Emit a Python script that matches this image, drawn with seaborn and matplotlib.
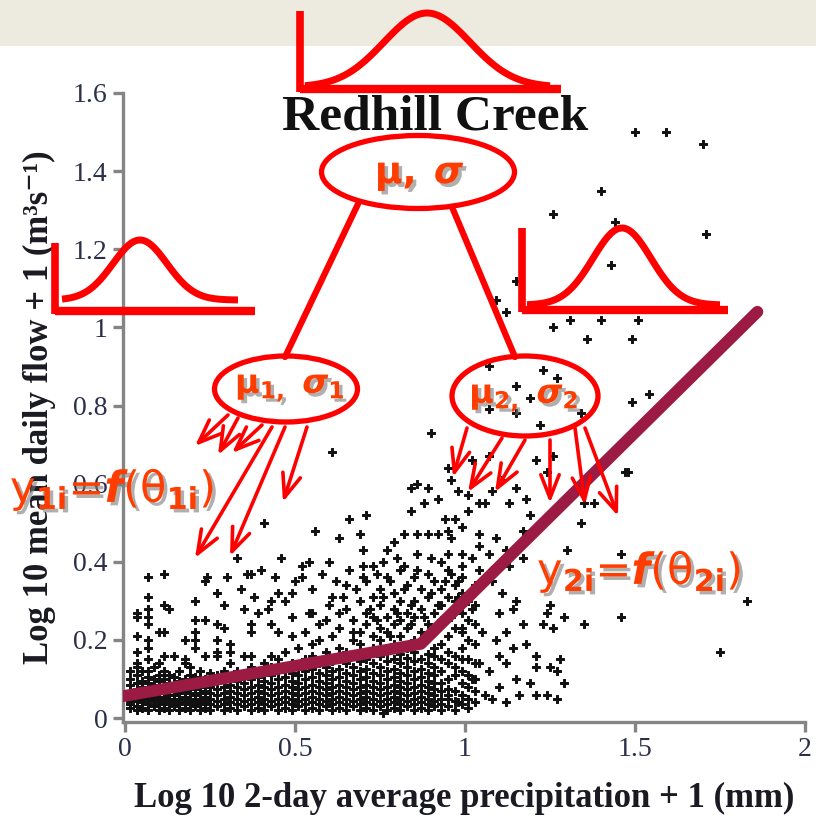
import numpy as np
import matplotlib
matplotlib.use("Agg")
import matplotlib.pyplot as plt
import matplotlib.patheffects as pe
from matplotlib.patches import Ellipse, Rectangle
import seaborn as sns

# ---------------- data ----------------
title = "Redhill Creek"
x_label = "Log 10 2-day average precipitation + 1 (mm)"
y_label = "Log 10 mean daily flow + 1 (m³s⁻¹)"
x_ticks = [0, 0.5, 1, 1.5, 2]
x_tick_labels = ["0", "0.5", "1", "1.5", "2"]
y_ticks = [0, 0.2, 0.4, 0.6, 0.8, 1.0, 1.2, 1.4, 1.6]
y_tick_labels = ["0", "0.2", "0.4", "0.6", "0.8", "1", "1.2", "1.4", "1.6"]

# dense low-flow band, read column by column
band_x = [0.015, 0.035, 0.05, 0.068, 0.085, 0.10, 0.115, 0.13, 0.145, 0.16,
          0.175, 0.19, 0.205, 0.22, 0.235, 0.25, 0.27, 0.29, 0.31, 0.33,
          0.35, 0.37, 0.39, 0.41, 0.43, 0.45, 0.47, 0.49, 0.51, 0.53,
          0.55, 0.57, 0.59, 0.61, 0.63, 0.65, 0.67, 0.69, 0.71, 0.73,
          0.75, 0.77, 0.79, 0.81, 0.83, 0.85, 0.87, 0.89, 0.91, 0.93,
          0.95, 0.97, 0.99, 1.01, 1.03]
band_y = [
    [0.025, 0.035, 0.045, 0.055, 0.07, 0.085, 0.10, 0.12],
    [0.02, 0.03, 0.045, 0.06, 0.075, 0.09, 0.11, 0.13, 0.14, 0.17, 0.21, 0.26, 0.27],
    [0.025, 0.04, 0.05, 0.065, 0.08, 0.095, 0.12],
    [0.02, 0.035, 0.05, 0.06, 0.075, 0.09, 0.105, 0.12, 0.15, 0.18, 0.20, 0.24, 0.26, 0.28, 0.31, 0.36],
    [0.03, 0.045, 0.055, 0.07, 0.085, 0.10, 0.13],
    [0.02, 0.035, 0.05, 0.065, 0.08, 0.095, 0.11, 0.14, 0.22],
    [0.025, 0.04, 0.055, 0.07, 0.085, 0.10, 0.12, 0.16, 0.22, 0.29, 0.37],
    [0.02, 0.035, 0.05, 0.06, 0.075, 0.09, 0.11, 0.28],
    [0.03, 0.045, 0.06, 0.075, 0.09, 0.105, 0.16],
    [0.02, 0.035, 0.05, 0.065, 0.08, 0.095, 0.12],
    [0.025, 0.04, 0.055, 0.07, 0.085, 0.10, 0.14, 0.15, 0.20],
    [0.02, 0.035, 0.05, 0.065, 0.08, 0.095, 0.11, 0.13],
    [0.03, 0.045, 0.06, 0.075, 0.09, 0.105, 0.18, 0.20, 0.22, 0.25, 0.30],
    [0.02, 0.035, 0.05, 0.065, 0.08, 0.10, 0.12],
    [0.025, 0.04, 0.055, 0.07, 0.085, 0.10, 0.16, 0.25, 0.35],
    [0.02, 0.035, 0.05, 0.065, 0.08, 0.095, 0.115],
    [0.03, 0.045, 0.06, 0.075, 0.09, 0.11, 0.16, 0.17, 0.20, 0.24, 0.32],
    [0.02, 0.035, 0.05, 0.065, 0.08, 0.10, 0.12, 0.23, 0.29],
    [0.025, 0.04, 0.055, 0.07, 0.085, 0.105, 0.14, 0.17, 0.19],
    [0.02, 0.035, 0.05, 0.065, 0.08, 0.095, 0.12],
    [0.03, 0.045, 0.06, 0.075, 0.09, 0.11, 0.16, 0.28],
    [0.02, 0.035, 0.05, 0.065, 0.08, 0.10, 0.13, 0.16, 0.22, 0.24, 0.37],
    [0.025, 0.04, 0.055, 0.07, 0.085, 0.105, 0.12, 0.27],
    [0.02, 0.035, 0.05, 0.065, 0.08, 0.095, 0.115, 0.14],
    [0.03, 0.045, 0.06, 0.075, 0.09, 0.11, 0.13, 0.16, 0.24, 0.30],
    [0.02, 0.035, 0.05, 0.065, 0.08, 0.10, 0.12, 0.15, 0.22, 0.32],
    [0.025, 0.04, 0.055, 0.07, 0.085, 0.105, 0.125, 0.17],
    [0.02, 0.035, 0.05, 0.065, 0.08, 0.095, 0.115, 0.14, 0.21, 0.26, 0.32],
    [0.03, 0.045, 0.06, 0.075, 0.09, 0.11, 0.13, 0.18],
    [0.02, 0.035, 0.05, 0.065, 0.08, 0.10, 0.12, 0.15, 0.22],
    [0.025, 0.04, 0.055, 0.07, 0.085, 0.105, 0.125, 0.16, 0.19, 0.27],
    [0.02, 0.035, 0.05, 0.065, 0.08, 0.095, 0.115, 0.14, 0.20],
    [0.03, 0.045, 0.06, 0.075, 0.09, 0.11, 0.13, 0.17, 0.25],
    [0.02, 0.035, 0.05, 0.065, 0.08, 0.10, 0.12, 0.145, 0.21, 0.31],
    [0.025, 0.04, 0.055, 0.07, 0.085, 0.105, 0.125, 0.15, 0.18, 0.23],
    [0.02, 0.035, 0.05, 0.065, 0.08, 0.095, 0.115, 0.14, 0.17, 0.28, 0.34],
    [0.03, 0.045, 0.06, 0.075, 0.09, 0.11, 0.13, 0.16, 0.20, 0.25],
    [0.02, 0.035, 0.05, 0.065, 0.08, 0.10, 0.12, 0.145, 0.19, 0.22, 0.30],
    [0.025, 0.04, 0.055, 0.07, 0.085, 0.105, 0.125, 0.15, 0.17, 0.24, 0.27, 0.35],
    [0.02, 0.035, 0.05, 0.065, 0.08, 0.095, 0.115, 0.14, 0.18, 0.21, 0.26, 0.31],
    [0.03, 0.045, 0.06, 0.075, 0.09, 0.11, 0.13, 0.16, 0.20, 0.23, 0.29, 0.33],
    [0.02, 0.035, 0.05, 0.065, 0.08, 0.10, 0.12, 0.145, 0.17, 0.22, 0.26, 0.36],
    [0.025, 0.04, 0.055, 0.07, 0.085, 0.105, 0.125, 0.15, 0.19, 0.24, 0.28, 0.32],
    [0.02, 0.035, 0.05, 0.065, 0.08, 0.095, 0.115, 0.14, 0.165, 0.21, 0.25, 0.30, 0.38],
    [0.03, 0.045, 0.06, 0.075, 0.09, 0.11, 0.13, 0.155, 0.18, 0.23, 0.27, 0.34],
    [0.02, 0.035, 0.05, 0.065, 0.08, 0.10, 0.12, 0.145, 0.17, 0.20, 0.26, 0.30, 0.36],
    [0.025, 0.04, 0.055, 0.07, 0.085, 0.105, 0.125, 0.15, 0.19, 0.22, 0.28, 0.33],
    [0.02, 0.035, 0.05, 0.065, 0.08, 0.095, 0.115, 0.14, 0.165, 0.21, 0.24, 0.31, 0.37],
    [0.03, 0.045, 0.06, 0.075, 0.09, 0.11, 0.13, 0.16, 0.18, 0.23, 0.27, 0.35],
    [0.02, 0.035, 0.05, 0.07, 0.09, 0.12, 0.15, 0.19, 0.25, 0.29, 0.33],
    [0.03, 0.05, 0.075, 0.10, 0.14, 0.17, 0.21, 0.26, 0.31, 0.38],
    [0.02, 0.045, 0.07, 0.11, 0.13, 0.16, 0.23, 0.28, 0.34],
    [0.035, 0.06, 0.09, 0.12, 0.18, 0.22, 0.27, 0.32, 0.36],
    [0.025, 0.05, 0.08, 0.11, 0.15, 0.20, 0.25, 0.30],
    [0.04, 0.07, 0.10, 0.14, 0.19, 0.24, 0.29, 0.34],
]

# scattered points away from the dense band
spread_x = [1.50, 1.59, 1.70, 1.40, 1.26, 1.44, 1.71, 1.43, 1.15, 1.09, 1.12, 1.31, 1.40, 1.51,
            1.26, 1.36, 1.49, 1.54, 1.49, 1.07, 1.23, 1.27, 1.15, 1.19, 1.15, 1.22, 1.34, 1.07,
            0.90, 0.61, 0.95, 0.86, 0.84, 0.89, 0.96, 0.98, 0.92, 0.88, 0.84, 0.66, 0.71, 0.94,
            0.56, 0.63, 0.69, 0.77, 0.79, 0.82, 0.86, 0.89, 0.92, 0.95, 0.70, 0.80, 0.90, 0.95,
            0.54, 0.52, 0.70, 0.73, 0.82, 0.41, 0.36, 0.24, 0.27,
            0.52, 0.55, 0.58, 0.60, 0.62, 0.64, 0.66, 0.68, 0.70, 0.72, 0.74, 0.76, 0.78, 0.80,
            0.82, 0.84, 0.86, 0.88, 0.90, 0.92, 0.94, 0.96, 0.98, 0.54, 0.57, 0.63, 0.67, 0.74,
            0.78, 0.84, 0.88, 0.60, 0.76, 0.86, 0.93,
            1.01, 1.04, 1.06, 1.01, 1.13, 1.15, 1.18, 1.19, 1.08, 1.11, 1.02, 1.07, 1.21, 1.24,
            1.26, 1.35, 1.38, 1.34, 1.47, 0.97, 0.99, 0.96, 1.04, 1.04, 1.09, 1.07, 1.02, 0.99,
            1.12, 1.17, 1.17, 1.13, 1.08, 1.04, 0.99, 0.96, 0.98, 1.04, 1.08, 1.11, 1.15, 1.25,
            1.29, 1.24, 1.23, 1.35, 1.46, 1.26, 1.17, 1.10, 1.14, 1.02, 0.97, 0.95, 0.99, 1.05,
            1.09, 1.12, 1.14, 1.18, 1.21, 1.21, 1.25, 1.27, 1.29, 1.27, 1.24, 1.21, 1.19, 1.15,
            1.16, 1.12, 1.10, 1.07, 1.10, 1.06, 1.02, 1.04, 0.99, 0.97, 0.95, 0.98, 1.01, 1.08,
            1.12, 1.28, 1.30, 1.48, 1.46, 1.83, 1.75,
            0.33, 0.40, 0.46, 0.50, 0.44, 0.47, 0.42, 0.38, 0.34, 0.30, 0.76]
spread_y = [1.50, 1.50, 1.47, 1.35, 1.29, 1.27, 1.24, 1.16, 1.12, 1.07, 1.04, 1.02, 1.02, 1.02,
            1.00, 0.97, 0.97, 0.83, 0.81, 0.90, 0.89, 0.87, 0.85, 0.82, 0.78, 0.75, 0.78, 0.79,
            0.73, 0.68, 0.64, 0.60, 0.59, 0.59, 0.61, 0.58, 0.56, 0.55, 0.53, 0.51, 0.52, 0.51,
            0.48, 0.46, 0.47, 0.43, 0.45, 0.47, 0.47, 0.47, 0.47, 0.48, 0.43, 0.41, 0.41, 0.42,
            0.40, 0.39, 0.39, 0.39, 0.39, 0.50, 0.37, 0.36, 0.32,
            0.36, 0.33, 0.37, 0.29, 0.35, 0.31, 0.38, 0.33, 0.36, 0.28, 0.37, 0.31, 0.35, 0.27,
            0.33, 0.29, 0.38, 0.26, 0.32, 0.29, 0.35, 0.26, 0.31, 0.27, 0.24, 0.27, 0.22, 0.25,
            0.21, 0.24, 0.21, 0.40, 0.40, 0.42, 0.40,
            0.57, 0.55, 0.55, 0.53, 0.55, 0.59, 0.56, 0.52, 0.58, 0.61, 0.66, 0.67, 0.66, 0.63,
            0.67, 0.55, 0.55, 0.50, 0.63, 0.51, 0.49, 0.46, 0.47, 0.44, 0.46, 0.42, 0.41, 0.42,
            0.43, 0.48, 0.41, 0.39, 0.38, 0.38, 0.39, 0.37, 0.35, 0.34, 0.35, 0.32, 0.30, 0.29,
            0.26, 0.27, 0.24, 0.24, 0.26, 0.23, 0.24, 0.27, 0.28, 0.28, 0.30, 0.26, 0.23, 0.22,
            0.20, 0.22, 0.18, 0.19, 0.16, 0.13, 0.13, 0.12, 0.09, 0.05, 0.06, 0.06, 0.09, 0.10,
            0.06, 0.14, 0.16, 0.12, 0.08, 0.06, 0.10, 0.14, 0.15, 0.11, 0.06, 0.04, 0.05, 0.05,
            0.04, 0.15, 0.43, 0.63, 0.42, 0.30, 0.17,
            0.41, 0.38, 0.41, 0.35, 0.36, 0.30, 0.28, 0.31, 0.33, 0.36, 0.013]

# fitted two-segment regression line
fit_x = [-0.02, 0.87, 1.86]
fit_y = [0.054, 0.19, 1.04]

# ---------------- figure ----------------
W, H = 816, 819
sns.set_theme(style="ticks")
plt.rcParams["font.family"] = ["Liberation Serif", "DejaVu Serif"]
plt.rcParams["mathtext.fontset"] = "custom"
plt.rcParams["mathtext.rm"] = "DejaVu Sans:bold"
plt.rcParams["mathtext.it"] = "DejaVu Sans:bold:italic"
plt.rcParams["mathtext.bf"] = "DejaVu Sans:bold"

fig = plt.figure(figsize=(W / 100, H / 100), dpi=100, facecolor="white")

# background band
ov_bg = fig.add_axes([0, 0, 1, 1], zorder=0)
ov_bg.set_xlim(0, W)
ov_bg.set_ylim(H, 0)
ov_bg.axis("off")
ov_bg.add_patch(Rectangle((0, 0), W, 46, color="#EDEADF", lw=0))

ax = fig.add_axes([123 / W, 1 - 722 / H, (805 - 123) / W, (722 - 93) / H], zorder=1)
ax.patch.set_alpha(0)

sx = [x for x, col in zip(band_x, band_y) for _ in col] + spread_x
sy = [y for col in band_y for y in col] + spread_y
sns.scatterplot(x=sx, y=sy, ax=ax, color="#111111", marker="P", s=26,
                edgecolor="#111111", linewidth=0.7, legend=False, zorder=2)
sns.lineplot(x=fit_x, y=fit_y, ax=ax, sort=False, color="#9B1B45", lw=8.5,
             solid_capstyle="round", legend=False, zorder=3)

ax.set_xlim(-0.006, 2.0)
ax.set_ylim(-0.01, 1.6)
ax.set_xticks(x_ticks)
ax.set_xticklabels(x_tick_labels)
ax.set_yticks(y_ticks)
ax.set_yticklabels(y_tick_labels)
sns.despine(ax=ax)
for s in ["left", "bottom"]:
    ax.spines[s].set_color("#858585")
    ax.spines[s].set_linewidth(2.4)
ax.tick_params(axis="both", direction="out", length=7, width=2.4, color="#858585",
               labelsize=20, labelcolor="#2c2f4a", pad=4)
ax.set_xlabel(x_label, fontsize=25, fontweight="bold", color="#1a1a22", labelpad=14)
ax.set_ylabel(y_label, fontsize=25, fontweight="bold", color="#1a1a22", labelpad=12)
ax.grid(False)

# ---------------- hierarchy overlay ----------------
ov = fig.add_axes([0, 0, 1, 1], zorder=5)
ov.set_xlim(0, W)
ov.set_ylim(H, 0)
ov.axis("off")
ov.patch.set_alpha(0)

ov.text(435, 117, title, ha="center", va="center", fontsize=37, fontweight="bold",
        color="#111111", family=["Liberation Serif", "DejaVu Serif"])

RED = "#FF0000"
ORANGE = "#FF3D00"
shadow = [pe.SimplePatchShadow(offset=(2.5, -2.5), shadow_rgbFace="#7a7a7a", alpha=0.6), pe.Normal()]


def bell(x0, x1, xc, sig, base, peak, lx, ly0, ly1, bx1, by):
    xs = np.linspace(x0, x1, 120)
    ys = base - (base - peak) * np.exp(-0.5 * ((xs - xc) / sig) ** 2)
    ov.plot(xs, ys, color=RED, lw=5, solid_capstyle="butt")
    ov.plot([lx, lx], [ly0, ly1], color=RED, lw=5.5, solid_capstyle="butt")
    ov.plot([lx, bx1], [by, by], color=RED, lw=6, solid_capstyle="butt")


bell(305, 550, 427, 43, 87, 13, 300, 11, 92, 561, 89)
bell(62, 238, 140, 27, 300, 240, 55, 243, 314, 255, 311)
bell(527, 720, 622, 29, 305, 228, 522, 228, 312, 728, 310)

for (cx, cy, w, h) in [(418, 172, 193, 73), (286, 389, 143, 66), (525, 396, 146, 80)]:
    ov.add_patch(Ellipse((cx, cy), w, h, fill=False, ec=RED, lw=3.8))

ov.plot([358, 285], [204, 357], color=RED, lw=4.5)
ov.plot([452, 515], [207, 357], color=RED, lw=4.5)

ov.text(420, 176, r"$\mathrm{\mu,}$ $\sigma$", ha="center", va="center", fontsize=27,
        color=ORANGE, path_effects=shadow)
ov.text(290, 388, r"$\mathrm{\mu}_{1,}\ \sigma_1$", ha="center", va="center", fontsize=24,
        color=ORANGE, path_effects=shadow)
ov.text(524, 398, r"$\mathrm{\mu}_{2,}\ \sigma_2$", ha="center", va="center", fontsize=24,
        color=ORANGE, path_effects=shadow)

arrows = [
    ((228, 415), (195, 446)), ((238, 418), (218, 455)), ((262, 425), (232, 453)),
    ((272, 427), (195, 558)), ((285, 427), (230, 556)), ((307, 427), (283, 502)),
    ((467, 428), (453, 477)), ((502, 438), (468, 492)), ((525, 440), (495, 492)),
    ((550, 440), (550, 503)), ((575, 428), (585, 505)), ((585, 428), (618, 516)),
]
for (s, t) in arrows:
    ov.annotate("", xy=t, xytext=s,
                arrowprops=dict(arrowstyle="->,head_length=1.4,head_width=0.55",
                                color=RED, lw=2.6, shrinkA=0, shrinkB=0))

ov.text(10, 490, r"y$_{\mathrm{1i}}$=$f$(θ$_{\mathrm{1i}}$)", ha="left", va="center",
        fontsize=31, color=ORANGE, family=["DejaVu Sans"], path_effects=shadow)
ov.text(537, 572, r"y$_{\mathrm{2i}}$=$f$(θ$_{\mathrm{2i}}$)", ha="left", va="center",
        fontsize=31, color=ORANGE, family=["DejaVu Sans"], path_effects=shadow)

fig.savefig("out.png", dpi=100, facecolor="white")
